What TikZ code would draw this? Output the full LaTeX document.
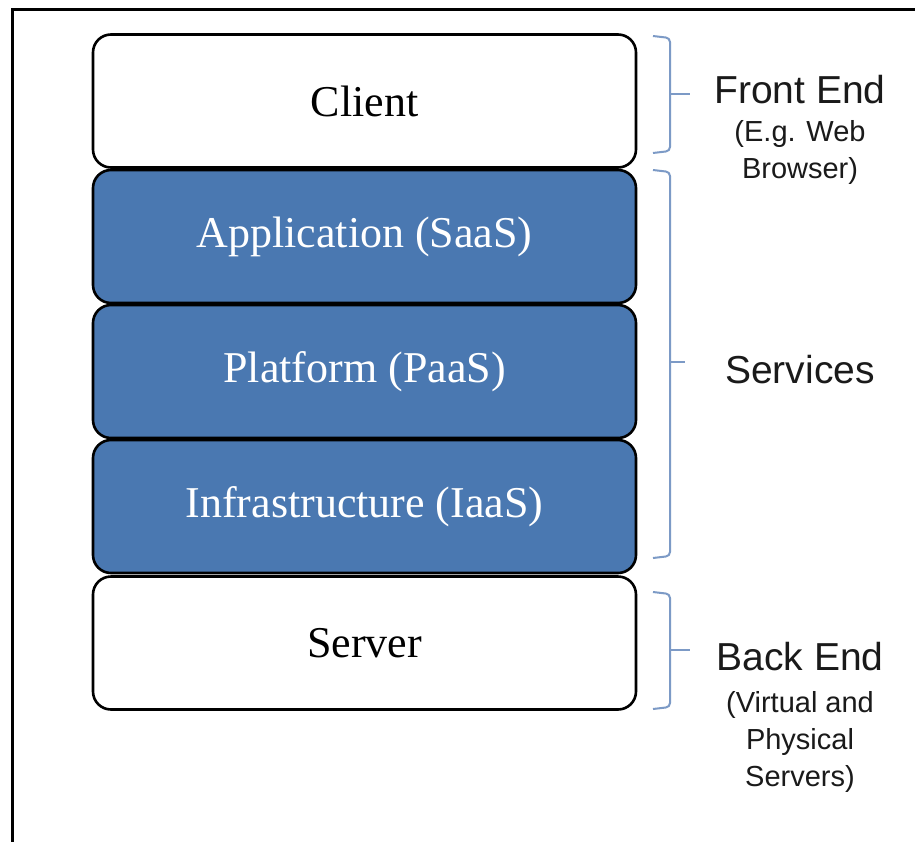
\documentclass[tikz,border=0pt]{standalone}
\usepackage{fontspec}
\setmainfont{Liberation Serif}
\newfontfamily\arialfont{Liberation Sans}
\definecolor{layerblue}{HTML}{4A78B1}
\definecolor{bracecol}{HTML}{7C9AC6}
\definecolor{labelink}{HTML}{1A1A1A}
\begin{document}
\begin{tikzpicture}[x=1pt,y=-1pt,
  layer/.style={draw=black, line width=2.6pt, rounded corners=18pt,
    minimum width=543pt, minimum height=133pt, inner sep=0pt,
    font=\fontsize{44}{48}\selectfont},
  whitelayer/.style={layer, fill=white, text=black},
  bluelayer/.style={layer, fill=layerblue, text=white},
  bracket/.style={draw=bracecol, line width=2pt, rounded corners=4pt},
  biglabel/.style={font=\arialfont\fontsize{39}{44}\selectfont, text=labelink, inner sep=0pt},
  smalllabel/.style={font=\arialfont\fontsize{29}{37}\selectfont, text=labelink, align=center, inner sep=0pt}
]
\useasboundingbox (0,0) rectangle (915,841);
\fill[white] (0,0) rectangle (915,841);
\draw[line width=2.8pt] (12.5,9.5) rectangle (940,870);

\node[whitelayer] (client) at (364.5,101) {Client};
\node[bluelayer]  (app)    at (364.5,236.5) {Application (SaaS)};
\node[bluelayer]  (plat)   at (364.5,371.5) {Platform (PaaS)};
\node[bluelayer]  (infra)  at (364.5,506.5) {Infrastructure (IaaS)};
\node[whitelayer] (server) at (364.5,643) {Server};

% brackets
\draw[bracket] (653,36) -- (670,38) -- (670,151) -- (653,153);
\draw[bracket] (670,94) -- (690,94);
\draw[bracket] (653,170) -- (670,172) -- (670,556) -- (653,558);
\draw[bracket] (670,362) -- (685,362);
\draw[bracket] (653,592) -- (670,594) -- (670,707) -- (653,709);
\draw[bracket] (670,650) -- (690,650);

\node[biglabel] (front) at (800,90) {Front End};
\node[smalllabel] (frontsub) at (800,152) {(E.g. Web\\Browser)};
\node[biglabel] (serv) at (800,370) {Services};
\node[biglabel] (back) at (800,657) {Back End};
\node[smalllabel] (backsub) at (800,742) {(Virtual and\\Physical\\Servers)};
\end{tikzpicture}
\end{document}
